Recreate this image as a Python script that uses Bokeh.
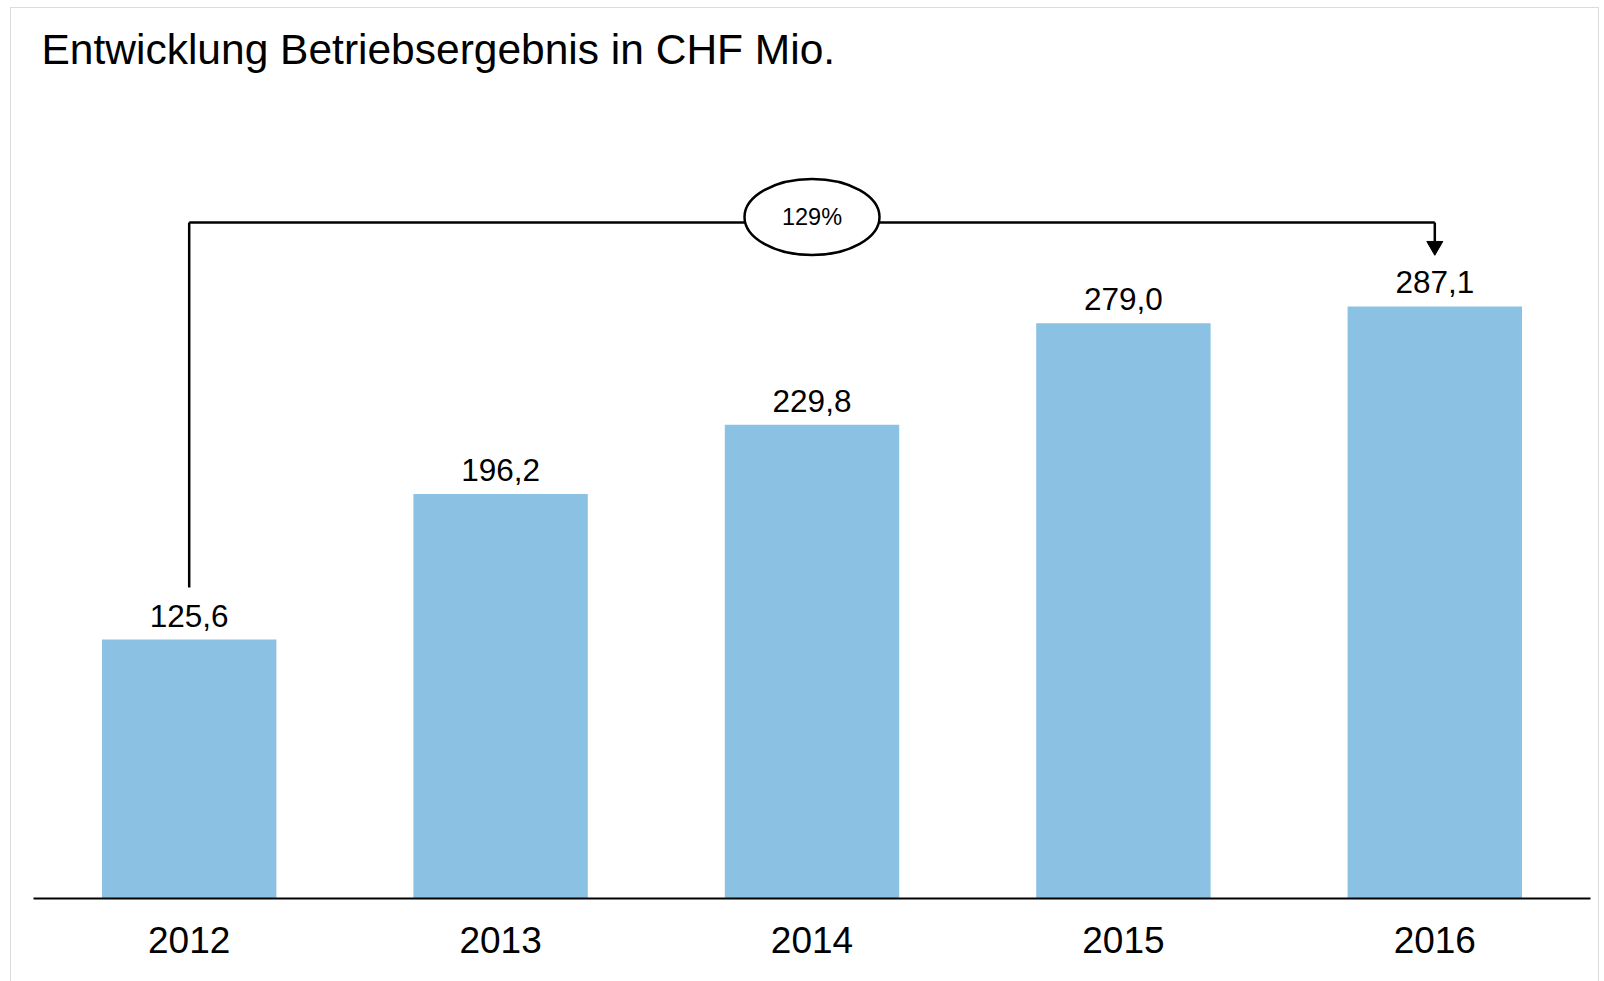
from bokeh.plotting import figure
from bokeh.models import Range1d, FactorRange, ColumnDataSource
from bokeh.core.properties import value
from bokeh.embed import file_html
from bokeh.resources import INLINE

# ---- data ----
years = ["2012", "2013", "2014", "2015", "2016"]
results = [125.6, 196.2, 229.8, 279.0, 287.1]
title_text = "Entwicklung Betriebsergebnis in CHF Mio."

labels = [f"{v:.1f}".replace(".", ",") for v in results]
growth = round((results[-1] / results[0] - 1) * 100)
growth_text = f"{growth}%"

FONT = "Liberation Sans"
BAR = "#8BC1E3"

p = figure(
    width=1589, height=990,
    x_range=FactorRange(*years), y_range=Range1d(0, 396.7),
    output_backend="svg", toolbar_location=None,
    min_border_left=22, min_border_right=10, min_border_top=72, min_border_bottom=100,
    title=title_text,
)
p.styles = {"border": "1px solid #dcdcdc", "margin-left": "10px", "margin-top": "7px"}
p.title.text_font = FONT
p.title.text_font_size = "42.5px"
p.title.text_font_style = "normal"
p.title.text_color = "black"
p.title.align = "left"
p.title.offset = 8
p.title.standoff = 15

p.outline_line_color = None
p.grid.visible = False
p.yaxis.visible = False
p.xaxis.axis_line_color = "black"
p.xaxis.axis_line_width = 2
p.xaxis.major_tick_line_color = None
p.xaxis.minor_tick_line_color = None
p.xaxis.major_label_text_font = FONT
p.xaxis.major_label_text_font_size = "37px"
p.xaxis.major_label_text_color = "black"
p.xaxis.major_label_standoff = 22

src = ColumnDataSource(dict(x=years, top=results, lab=labels))
p.vbar(x="x", top="top", width=0.56, source=src, fill_color=BAR, line_color=None)
p.text(x="x", y="top", text="lab", source=src, text_align="center",
       text_baseline="alphabetic", y_offset=-24, text_font=value(FONT),
       text_font_size="31.5px", text_color="black")

# growth connector derived from data
label_gap = 25.2
line_y = max(results) + 40.7
first, last = years[0], years[-1]
p.segment(x0=[first], y0=[results[0] + label_gap], x1=[first], y1=[line_y],
          line_color="black", line_width=2.5)
p.segment(x0=[first], y0=[line_y], x1=[last], y1=[line_y],
          line_color="black", line_width=2.5)
tip = results[-1] + label_gap + 0.5
p.segment(x0=[last], y0=[line_y], x1=[last], y1=[tip + 6],
          line_color="black", line_width=2.5)
p.scatter(x=[last], y=[tip + 3.6], marker="inverted_triangle", size=16,
          fill_color="black", line_color="black")

mid = years[len(years) // 2]
p.ellipse(x=[mid], y=[line_y + 2.7], width=[135], height=[76],
          width_units="screen", height_units="screen",
          fill_color="white", line_color="black", line_width=2.5)
p.text(x=[mid], y=[line_y + 2.7], text=[growth_text], text_align="center",
       text_baseline="middle", text_font=value(FONT), text_font_size="23.5px",
       text_color="black")

open("out.html", "w").write(file_html(p, INLINE))
